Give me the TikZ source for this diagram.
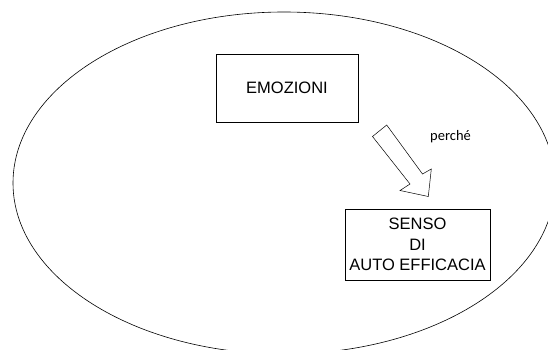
\documentclass[tikz,border=0pt]{standalone}
\usepackage{fontspec}
\setmainfont{Liberation Sans}
\newfontfamily\notefont{Carlito}
\begin{document}
\begin{tikzpicture}[x=1pt,y=-1pt,
  box/.style={draw, line width=0.7pt, inner sep=0pt, align=center,
    font=\fontsize{16.5}{20.5}\selectfont},
  outline/.style={line width=0.6pt},
  blockarrow/.style={draw, line width=0.5pt, line join=miter},
  note/.style={font=\notefont\fontsize{14.5}{17}\selectfont, inner sep=0pt}]
\useasboundingbox (0,0) rectangle (548,350);
% large surrounding ellipse, partly cut off at the right and bottom
\begin{scope}
  \clip (0,0) rectangle (548,350);
  \draw[outline] (284,183) ellipse [x radius=271pt, y radius=171pt];
\end{scope}
% boxes
\node[box, minimum width=142pt, minimum height=68pt] (emo) at (287,88) {EMOZIONI};
\node[box, minimum width=145pt, minimum height=71pt] (senso) at (417.5,244.5)
  {SENSO\\DI\\AUTO EFFICACIA};
% hollow block arrow between the boxes
\coordinate (tailL) at (372.5,136.5);
\coordinate (tailR) at (386.7,125);
\coordinate (neckR) at (422.5,174);
\coordinate (barbR) at (431.3,169);
\coordinate (tip)   at (428.3,196.5);
\coordinate (barbL) at (400,190.5);
\coordinate (neckL) at (410,184);
\draw[blockarrow] (tailL) -- (tailR) -- (neckR) -- (barbR) -- (tip)
  -- (barbL) -- (neckL) -- cycle;
\node[note, anchor=base west] (why) at (430,140) {perché};
\end{tikzpicture}
\end{document}
